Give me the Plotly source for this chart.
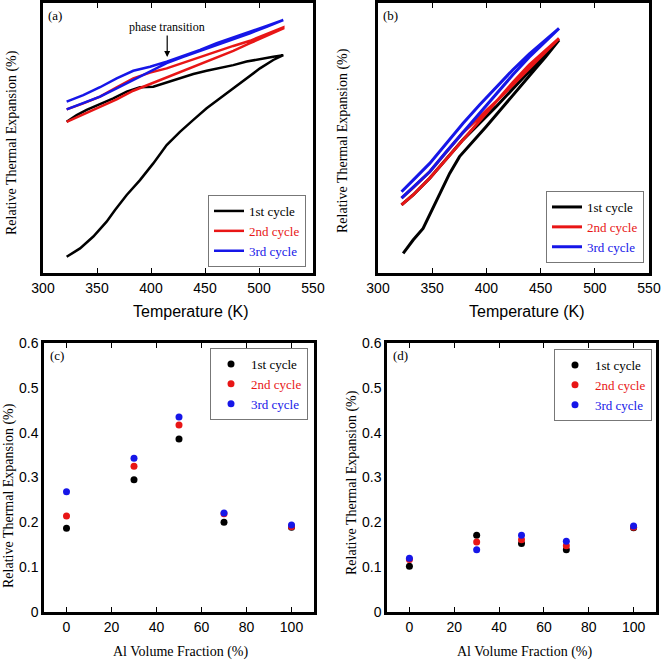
import plotly.graph_objects as go

# ---------------- Panel (a): Temperature sweep, arbitrary expansion units ----------------
a_T_1st = [321.9, 334.3, 346.6, 358.9, 366.7, 377.5, 389.8, 402.1, 414.5, 426.8, 439.2, 451.5, 463.9, 476.2,
           488.5, 500.9, 513.2, 522.5,
           513.2, 500.9, 488.5, 476.2, 463.9, 451.5, 439.2, 426.8, 414.5, 402.1, 389.8, 377.5, 365.1, 352.8,
           340.4, 331.2, 321.9]
a_V_1st = [0.060, 0.091, 0.135, 0.190, 0.233, 0.289, 0.344, 0.406, 0.474, 0.523, 0.567, 0.610, 0.647, 0.684,
           0.721, 0.758, 0.789, 0.807,
           0.801, 0.793, 0.783, 0.770, 0.760, 0.749, 0.737, 0.721, 0.705, 0.690, 0.688, 0.672, 0.647, 0.626,
           0.604, 0.585, 0.560]
a_T_2nd = [321.9, 337.3, 352.8, 368.2, 383.6, 399.1, 414.5, 429.9, 445.4, 460.8, 476.2, 491.7, 507.1, 522.5,
           522.5, 507.1, 491.7, 476.2, 460.8, 445.4, 429.9, 414.5, 399.1, 383.6, 368.2, 352.8, 337.3, 321.9]
a_V_2nd = [0.560, 0.588, 0.614, 0.643, 0.675, 0.700, 0.723, 0.748, 0.773, 0.799, 0.823, 0.851, 0.878, 0.906,
           0.910, 0.884, 0.860, 0.841, 0.820, 0.801, 0.780, 0.758, 0.742, 0.721, 0.688, 0.653, 0.628, 0.606]
a_T_3rd = [321.9, 337.3, 352.8, 368.2, 383.6, 399.1, 414.5, 429.9, 445.4, 460.8, 476.2, 491.7, 507.1, 522.5,
           522.5, 507.1, 491.7, 476.2, 460.8, 445.4, 429.9, 414.5, 399.1, 383.6, 368.2, 352.8, 337.3, 321.9]
a_V_3rd = [0.606, 0.628, 0.653, 0.684, 0.715, 0.746, 0.777, 0.801, 0.823, 0.844, 0.865, 0.888, 0.912, 0.935,
           0.937, 0.915, 0.894, 0.873, 0.851, 0.826, 0.804, 0.783, 0.764, 0.749, 0.721, 0.688, 0.659, 0.635]

# ---------------- Panel (b) ----------------
b_T_1st = [323.2, 332.4, 341.6, 347.7, 356.9, 366.1, 375.2, 387.5, 399.7, 415.0, 430.3, 445.6, 454.7, 467.0,
           439.4, 408.9, 378.3, 363.0, 347.7, 332.4, 321.7]
b_V_1st = [0.073, 0.122, 0.165, 0.215, 0.295, 0.369, 0.431, 0.486, 0.542, 0.614, 0.684, 0.758, 0.801, 0.863,
           0.746, 0.616, 0.493, 0.421, 0.351, 0.289, 0.252]
b_T_2nd = [321.7, 332.4, 347.7, 363.0, 378.3, 393.6, 408.9, 424.2, 439.4, 454.7, 467.0,
           439.4, 408.9, 378.3, 363.0, 347.7, 332.4, 321.7]
b_V_2nd = [0.252, 0.289, 0.351, 0.421, 0.493, 0.565, 0.635, 0.705, 0.770, 0.826, 0.869,
           0.758, 0.635, 0.520, 0.449, 0.375, 0.316, 0.277]
b_T_3rd = [321.7, 332.4, 347.7, 363.0, 378.3, 393.6, 408.9, 424.2, 439.4, 454.7, 467.0,
           454.7, 439.4, 424.2, 408.9, 393.6, 378.3, 363.0, 347.7, 332.4, 321.7]
b_V_3rd = [0.277, 0.316, 0.375, 0.449, 0.520, 0.591, 0.663, 0.733, 0.799, 0.857, 0.906,
           0.863, 0.811, 0.752, 0.688, 0.622, 0.554, 0.480, 0.406, 0.344, 0.301]

# ---------------- Panels (c), (d): Al volume fraction ----------------
al_fraction = [0, 30, 50, 70, 100]
c_1st = [0.187, 0.295, 0.386, 0.200, 0.189]
c_2nd = [0.214, 0.325, 0.417, 0.219, 0.190]
c_3rd = [0.268, 0.343, 0.435, 0.221, 0.194]
d_1st = [0.102, 0.171, 0.153, 0.139, 0.188]
d_2nd = [0.117, 0.156, 0.161, 0.148, 0.189]
d_3rd = [0.120, 0.139, 0.171, 0.158, 0.192]

cycle_names = ["1st cycle", "2nd cycle", "3rd cycle"]
x_ticks_T = [300, 350, 400, 450, 500, 550]
x_ticks_al = [0, 20, 40, 60, 80, 100]
y_ticks_c = [0, 0.1, 0.2, 0.3, 0.4, 0.5, 0.6]
y_tick_text = ["0", "0.1", "0.2", "0.3", "0.4", "0.5", "0.6"]

BLACK = "#000000"
RED = "rgb(232,22,22)"
BLUE = "rgb(22,22,232)"
colors = [BLACK, RED, BLUE]
SERIF = "Liberation Serif, Times New Roman, serif"
SANS = "Liberation Sans, Arial, sans-serif"
W = 661


def lab(name, col):
    return f'<span style="color:{col}">{name}</span>'


fig = go.Figure()

line_sets = [
    ("x", "y", "legend", [(a_T_1st, a_V_1st), (a_T_2nd, a_V_2nd), (a_T_3rd, a_V_3rd)], 2.5),
    ("x2", "y2", "legend2", [(b_T_1st, b_V_1st), (b_T_2nd, b_V_2nd), (b_T_3rd, b_V_3rd)], 3),
]
for xa, ya, lg, series, lw in line_sets:
    for (tx, vy), nm, col in zip(series, cycle_names, colors):
        fig.add_trace(go.Scatter(x=tx, y=vy, mode="lines", name=lab(nm, col), xaxis=xa, yaxis=ya,
                                 legend=lg, line=dict(color=col, width=lw)))

dot_sets = [
    ("x3", "y3", "legend3", [c_1st, c_2nd, c_3rd]),
    ("x4", "y4", "legend4", [d_1st, d_2nd, d_3rd]),
]
for xa, ya, lg, series in dot_sets:
    for vals, nm, col in zip(series, cycle_names, colors):
        fig.add_trace(go.Scatter(x=al_fraction, y=vals, mode="markers", name=lab(nm, col), xaxis=xa, yaxis=ya,
                                 legend=lg, marker=dict(color=col, size=7)))


def px_dom_x(a, b):
    return [a / W, b / W]


def px_dom_y(top, bottom):
    return [1 - bottom / W, 1 - top / W]


axis_common = dict(showline=True, linewidth=2.5, linecolor="black", showgrid=False, zeroline=False,
                   automargin=False, tickfont=dict(family=SANS, size=14, color="black"))
xT = dict(axis_common, range=[300, 550], tickvals=x_ticks_T, ticks="inside", ticklen=5, tickwidth=1,
          tickcolor="black", mirror="ticks")
xA = dict(axis_common, range=[-10, 110], tickvals=x_ticks_al, ticks="inside", ticklen=5, tickwidth=1,
          tickcolor="black", mirror="ticks")
yT = dict(axis_common, range=[0, 1], showticklabels=False, ticks="", mirror=True)
yA = dict(axis_common, range=[0, 0.6], tickvals=y_ticks_c, ticktext=y_tick_text, ticks="", mirror=True)

legend_common = dict(xanchor="right", bordercolor="#777777", borderwidth=1, bgcolor="white",
                     font=dict(family=SERIF, size=13, color="black"), tracegroupgap=0, itemwidth=30)

fig.update_layout(
    width=W, height=W, margin=dict(l=0, r=0, t=0, b=0, autoexpand=False),
    paper_bgcolor="white", plot_bgcolor="white",
    xaxis=dict(xT, domain=px_dom_x(43, 313), anchor="y"),
    yaxis=dict(yT, domain=px_dom_y(3, 273), anchor="x"),
    xaxis2=dict(xT, domain=px_dom_x(378, 649), anchor="y2"),
    yaxis2=dict(yT, domain=px_dom_y(3, 273), anchor="x2"),
    xaxis3=dict(xA, domain=px_dom_x(44, 314), anchor="y3"),
    yaxis3=dict(yA, domain=px_dom_y(343, 612), anchor="x3"),
    xaxis4=dict(xA, domain=px_dom_x(387, 656), anchor="y4"),
    yaxis4=dict(yA, domain=px_dom_y(343, 612), anchor="x4"),
    legend=dict(legend_common, x=306 / W, y=1 - 267 / W, yanchor="bottom"),
    legend2=dict(legend_common, x=644 / W, y=1 - 263 / W, yanchor="bottom"),
    legend3=dict(legend_common, x=308 / W, y=1 - 348 / W, yanchor="top"),
    legend4=dict(legend_common, x=652 / W, y=1 - 349 / W, yanchor="top"),
    showlegend=True,
)

ann = []


def text_ann(x, y, text, size, family, angle=0):
    ann.append(dict(x=x / W, y=1 - y / W, xref="paper", yref="paper", text=text, showarrow=False,
                    textangle=angle, xanchor="center", yanchor="middle",
                    font=dict(family=family, size=size, color="black")))


ylab = "Relative Thermal Expansion (%)"
text_ann(12, 143, ylab, 14, SERIF, -90)
text_ann(343, 141, ylab, 14, SERIF, -90)
text_ann(9, 496, ylab, 14, SERIF, -90)
text_ann(352, 483, ylab, 14, SERIF, -90)
text_ann(191, 312, "Temperature (K)", 16, SANS)
text_ann(527, 312, "Temperature (K)", 16, SANS)
text_ann(181, 652, "Al Volume Fraction (%)", 14, SERIF)
text_ann(525, 652, "Al Volume Fraction (%)", 14, SERIF)
text_ann(55, 15, "(a)", 13, SERIF)
text_ann(390, 15, "(b)", 13, SERIF)
text_ann(57, 355, "(c)", 13, SERIF)
text_ann(400, 355, "(d)", 13, SERIF)

ann.append(dict(x=415, y=0.80, xref="x", yref="y", text="phase transition", showarrow=True,
                arrowhead=2, arrowsize=1, arrowwidth=1.2, arrowcolor="black", ax=0, ay=-30,
                font=dict(family=SERIF, size=12, color="black")))
fig.update_layout(annotations=ann)

fig.write_html("out.html", config={"displayModeBar": False},
               post_script="document.body.style.margin='0';document.body.style.overflow='hidden';")
